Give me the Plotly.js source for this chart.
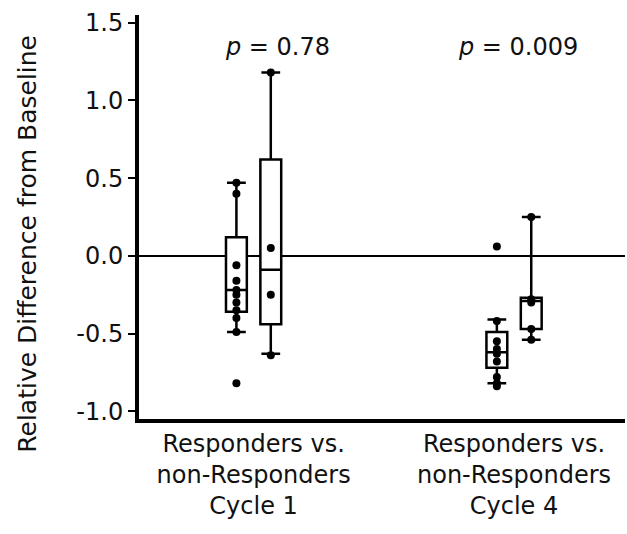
<!DOCTYPE html>
<html>
<head>
<meta charset="utf-8">
<script src="https://cdn.plot.ly/plotly-3.0.1.min.js"></script>
<style>html,body{margin:0;padding:0;background:#fff;}#chart{width:627px;height:534px;}</style>
</head>
<body>
<div id="chart"></div>
<script>
// ---- data ----
var groupLabels = ["Responders vs.<br>non-Responders<br>Cycle 1", "Responders vs.<br>non-Responders<br>Cycle 4"];
var pValues = ["<i>p</i> = 0.78", "<i>p</i> = 0.009"];

var respLower  = [-0.49, -0.82];
var respQ1     = [-0.36, -0.72];
var respMedian = [-0.22, -0.62];
var respQ3     = [0.12, -0.49];
var respUpper  = [0.47, -0.41];

var nonLower  = [-0.63, -0.54];
var nonQ1     = [-0.44, -0.47];
var nonMedian = [-0.09, -0.29];
var nonQ3     = [0.62, -0.27];
var nonUpper  = [1.18, 0.25];

var respPointsC1 = [0.47, 0.40, -0.06, -0.16, -0.22, -0.25, -0.30, -0.35, -0.40, -0.49, -0.82];
var nonPointsC1  = [1.18, 0.05, -0.25, -0.64];
var respPointsC4 = [0.06, -0.42, -0.55, -0.60, -0.63, -0.68, -0.78, -0.82, -0.84];
var nonPointsC4  = [0.25, -0.28, -0.30, -0.47, -0.54];

var yTickVals = [-1.0, -0.5, 0.0, 0.5, 1.0, 1.5];
var yTickText = ["-1.0", "-0.5", "0.0", "0.5", "1.0", "1.5"];
var yTitle = "Relative Difference from Baseline";

// ---- layout constants ----
var OFF = 0.066, BW = 0.08;
var groupPos = groupLabels.map(function(_, i){ return i; });
var respPos = groupPos.map(function(g){ return g - OFF; });
var nonPos  = groupPos.map(function(g){ return g + OFF; });
var FONT = "DejaVu Sans, Arial, sans-serif";

function boxTrace(pos, lo, q1, med, q3, hi){
  return {type:'box', x:pos, lowerfence:lo, q1:q1, median:med, q3:q3, upperfence:hi,
    width:BW, whiskerwidth:0.9, boxpoints:false, fillcolor:'#fff',
    line:{color:'#000', width:2.5}, showlegend:false, hoverinfo:'skip'};
}
function pts(xc, vals){
  return {type:'scatter', mode:'markers', x:vals.map(function(){return xc;}), y:vals,
    marker:{color:'#000', size:8}, showlegend:false, hoverinfo:'skip', cliponaxis:false};
}

var data = [
  boxTrace(respPos, respLower, respQ1, respMedian, respQ3, respUpper),
  boxTrace(nonPos, nonLower, nonQ1, nonMedian, nonQ3, nonUpper),
  pts(respPos[0], respPointsC1), pts(nonPos[0], nonPointsC1),
  pts(respPos[1], respPointsC4), pts(nonPos[1], nonPointsC4)
];

var layout = {
  width:627, height:534,
  margin:{l:139, r:2, t:15, b:114.5},
  paper_bgcolor:'#fff', plot_bgcolor:'#fff',
  font:{family:FONT, color:'#111', size:24},
  xaxis:{range:[-0.44, 1.426], tickvals:groupPos, ticktext:groupLabels,
    showline:true, linewidth:4, linecolor:'#000', ticks:'', showgrid:false, zeroline:false,
    tickfont:{family:FONT, size:24, color:'#111'}, fixedrange:true},
  yaxis:{range:[-1.05, 1.55], tickvals:yTickVals, ticktext:yTickText,
    showline:true, linewidth:4, linecolor:'#000', ticks:'outside', ticklen:7, tickwidth:2, tickcolor:'#000',
    showgrid:false, zeroline:true, zerolinecolor:'#000', zerolinewidth:2,
    tickfont:{family:FONT, size:24, color:'#111'}, fixedrange:true},
  annotations:[
    {x:0.09, y:1.343, xref:'x', yref:'y', text:pValues[0], showarrow:false, font:{family:FONT, size:24, color:'#111'}},
    {x:1.015, y:1.343, xref:'x', yref:'y', text:pValues[1], showarrow:false, font:{family:FONT, size:24, color:'#111'}},
    {x:(28-139)/486, y:(419.5-244)/404.5, xref:'paper', yref:'paper', text:yTitle, textangle:-90,
     showarrow:false, xanchor:'center', yanchor:'middle', font:{family:FONT, size:25, color:'#111'}}
  ]
};

Plotly.newPlot('chart', data, layout, {displayModeBar:false, staticPlot:true});
</script>
</body>
</html>
